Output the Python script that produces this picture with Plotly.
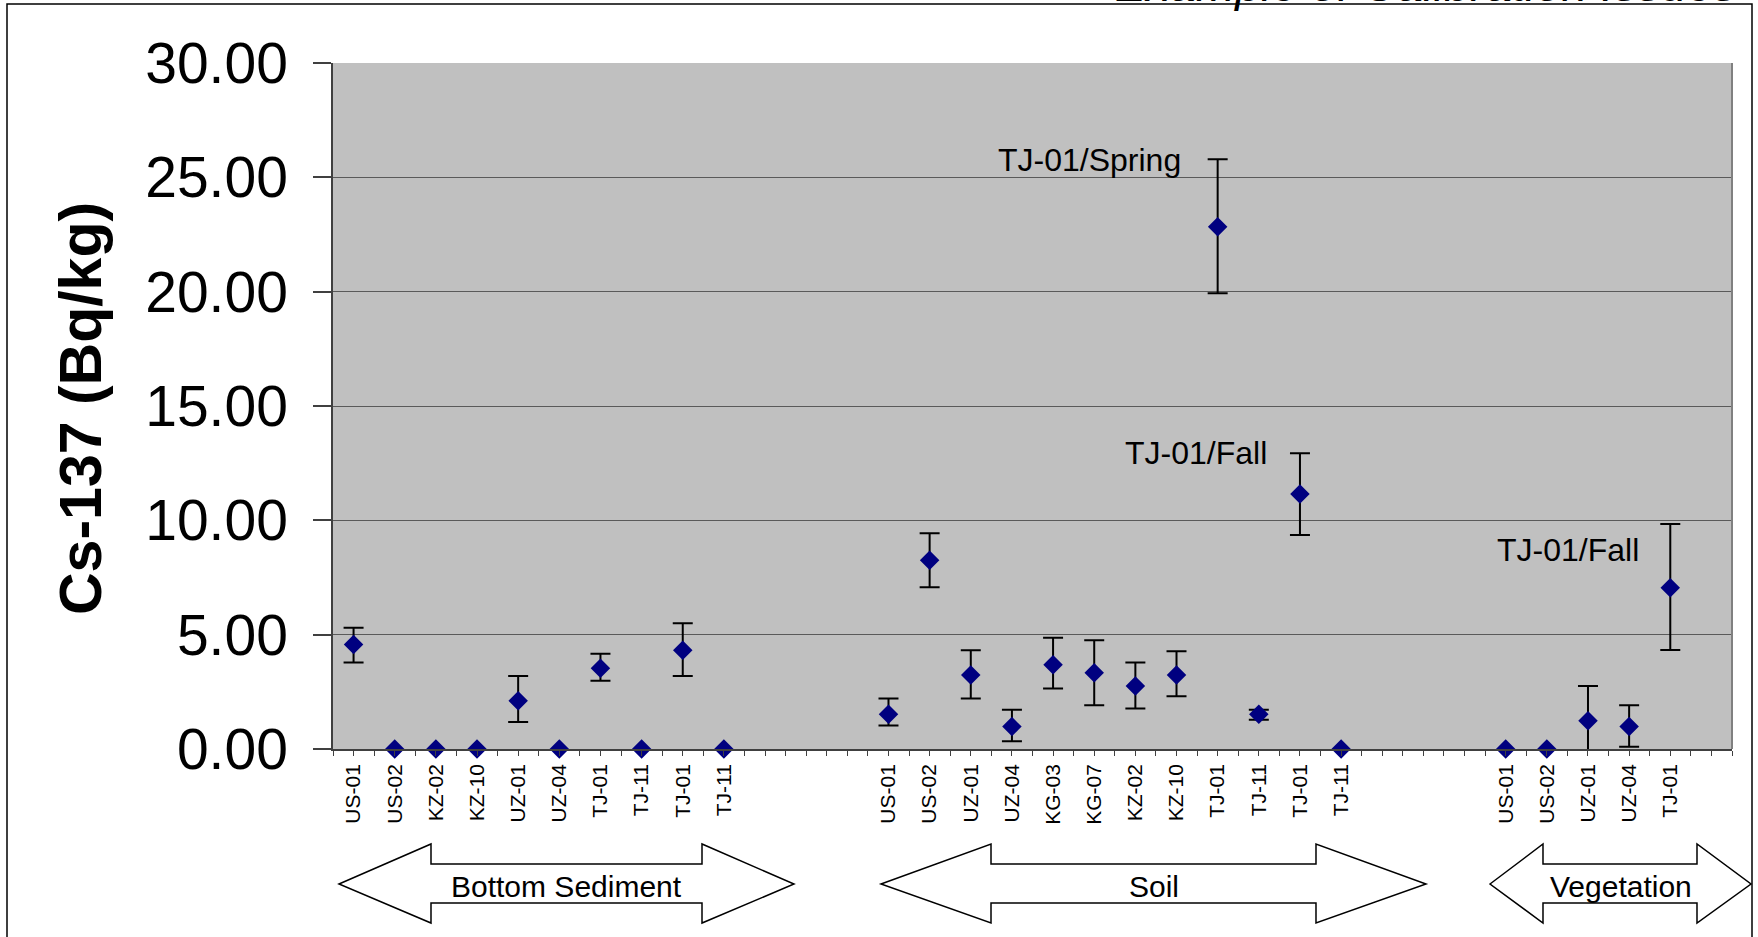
import plotly.graph_objects as go

# ---------------- data ----------------
sed_labels = ["US-01", "US-02", "KZ-02", "KZ-10", "UZ-01", "UZ-04", "TJ-01", "TJ-11", "TJ-01", "TJ-11"]
sed_values = [4.57, 0.0, 0.0, 0.0, 2.11, 0.0, 3.53, 0.0, 4.32, 0.0]
sed_upper = [5.30, None, None, None, 3.19, None, 4.17, None, 5.50, None]
sed_lower = [3.78, None, None, None, 1.18, None, 2.99, None, 3.19, None]

soil_labels = ["US-01", "US-02", "UZ-01", "UZ-04", "KG-03", "KG-07", "KZ-02", "KZ-10", "TJ-01", "TJ-11", "TJ-01", "TJ-11"]
soil_values = [1.52, 8.25, 3.24, 0.98, 3.68, 3.34, 2.75, 3.24, 22.84, 1.52, 11.15, 0.0]
soil_upper = [2.21, 9.43, 4.32, 1.72, 4.86, 4.76, 3.78, 4.27, 25.79, 1.72, 12.93, None]
soil_lower = [1.03, 7.07, 2.21, 0.34, 2.65, 1.91, 1.77, 2.31, 19.93, 1.28, 9.36, None]

veg_labels = ["US-01", "US-02", "UZ-01", "UZ-04", "TJ-01"]
veg_values = [0.0, 0.0, 1.23, 0.98, 7.05]
veg_upper = [None, None, 2.75, 1.91, 9.84]
veg_lower = [None, None, -0.30, 0.10, 4.33]

group_names = ["Bottom Sediment", "Soil", "Vegetation"]
group_start_slot = [1, 14, 29]
n_slots = 34

callouts = ["TJ-01/Spring", "TJ-01/Fall", "TJ-01/Fall"]
title_text = "Example of Calibration Issues"
y_title = "Cs-137 (Bq/kg)"

# ---------------- layout geometry (pixels) ----------------
FW, FH = 1758, 937
L, R, T, B = 333, 1732, 63, 749
PW, PH = R - L, B - T


def fx(px):
    return (px - L) / PW


def fy(py):
    return (B - py) / PH


FONT = "Arial, Liberation Sans, sans-serif"
NAVY = "#000080"

groups = [
    (sed_labels, sed_values, sed_upper, sed_lower),
    (soil_labels, soil_values, soil_upper, soil_lower),
    (veg_labels, veg_values, veg_upper, veg_lower),
]

fig = go.Figure()

tick_text = {}
for (labels, vals, up, lo), start in zip(groups, group_start_slot):
    xs = [start + i for i in range(len(labels))]
    for x, lab in zip(xs, labels):
        tick_text[x] = lab
    ex, ey, ep, em = [], [], [], []
    zx, zy = [], []
    for x, v, u, l in zip(xs, vals, up, lo):
        if u is None:
            zx.append(x)
            zy.append(v)
        else:
            ex.append(x)
            ey.append(v)
            ep.append(u - v)
            em.append(v - l)
    fig.add_trace(go.Scatter(
        x=ex, y=ey, mode="markers",
        marker=dict(symbol="diamond", size=15, color=NAVY, line=dict(width=0)),
        error_y=dict(type="data", symmetric=False, array=ep, arrayminus=em,
                     color="black", thickness=2, width=10),
        cliponaxis=False, showlegend=False, hoverinfo="x+y",
    ))
    fig.add_trace(go.Scatter(
        x=zx, y=zy, mode="markers",
        marker=dict(symbol="diamond", size=15, color=NAVY, line=dict(width=0)),
        cliponaxis=False, showlegend=False, hoverinfo="x+y",
    ))

tickvals = [0.5 + 0.5 * k for k in range(2 * n_slots + 1)]
ticktext = [tick_text.get(v, "") if float(v).is_integer() else "" for v in tickvals]

fig.update_layout(
    width=FW, height=FH,
    margin=dict(l=L, r=FW - R, t=T, b=FH - B, pad=0),
    paper_bgcolor="white",
    plot_bgcolor="#C0C0C0",
    font=dict(family=FONT, color="black"),
    xaxis=dict(
        range=[0.5, n_slots + 0.5], tickmode="array", tickvals=tickvals, ticktext=ticktext,
        tickangle=-90, tickfont=dict(size=21, family=FONT, color="black"),
        ticks="outside", ticklen=5, tickwidth=1, tickcolor="#404040",
        showgrid=False, zeroline=False, showline=True, linecolor="#404040", linewidth=1.5,
        mirror=False, fixedrange=True,
    ),
    yaxis=dict(
        range=[0, 30], tickmode="linear", tick0=0, dtick=5, tickformat=".2f",
        tickfont=dict(size=57, family=FONT, color="black"),
        ticks="outside", ticklen=18, tickwidth=1.5, tickcolor="#404040",
        showgrid=True, gridcolor="#5a5a5a", gridwidth=1.3,
        zeroline=False, showline=True, linecolor="#404040", linewidth=1.5,
        ticklabelstandoff=14, fixedrange=True,
    ),
)

# right border of plot area
fig.add_shape(type="line", xref="paper", yref="paper", x0=1, x1=1, y0=0, y1=1,
              line=dict(color="#808080", width=2))

# outer frame
fig.add_shape(type="rect", xref="paper", yref="paper",
              x0=fx(7), x1=fx(1752), y0=fy(4), y1=fy(950),
              line=dict(color="black", width=1.5), fillcolor="rgba(0,0,0,0)", layer="below")

# y axis title
fig.add_annotation(text="<b>" + y_title + "</b>", xref="paper", yref="paper",
                   x=fx(81), y=fy(409), textangle=-90, showarrow=False,
                   xanchor="center", yanchor="middle",
                   font=dict(size=59, family=FONT, color="black"))

# title (mostly cut off at top)
fig.add_annotation(text="<i>" + title_text + "</i>", xref="paper", yref="paper",
                   x=fx(1113), y=fy(13), xanchor="left", yanchor="bottom", showarrow=False,
                   font=dict(size=47, family=FONT, color="black"))

# call-out labels (positioned next to the corresponding points)
callout_pos = [(1089, 160), (1196, 453), (1568, 550)]
for txt, (cx, cy) in zip(callouts, callout_pos):
    fig.add_annotation(text=txt, xref="paper", yref="paper", x=fx(cx), y=fy(cy),
                       xanchor="center", yanchor="middle", showarrow=False,
                       font=dict(size=32, family=FONT, color="black"))

# group double arrows
arrow_px = [(339, 431, 702, 794), (881, 991, 1316, 1426), (1490, 1543, 1697, 1751)]
yt, ys1, ym, ys2, yb = 844, 864, 884, 903, 923
for name, (a, b, c, d) in zip(group_names, arrow_px):
    pts = [(a, ym), (b, yt), (b, ys1), (c, ys1), (c, yt), (d, ym), (c, yb), (c, ys2), (b, ys2), (b, yb)]
    path = "M " + " L ".join(f"{fx(px):.5f},{fy(py):.5f}" for px, py in pts) + " Z"
    fig.add_shape(type="path", xref="paper", yref="paper", path=path,
                  line=dict(color="black", width=1.5), fillcolor="white")
    fig.add_annotation(text=name, xref="paper", yref="paper", x=fx((a + d) / 2), y=fy(887),
                       xanchor="center", yanchor="middle", showarrow=False,
                       font=dict(size=30, family=FONT, color="black"))

fig.write_html("out.html", config={"displayModeBar": False},
               post_script="document.body.style.margin='0px';")
